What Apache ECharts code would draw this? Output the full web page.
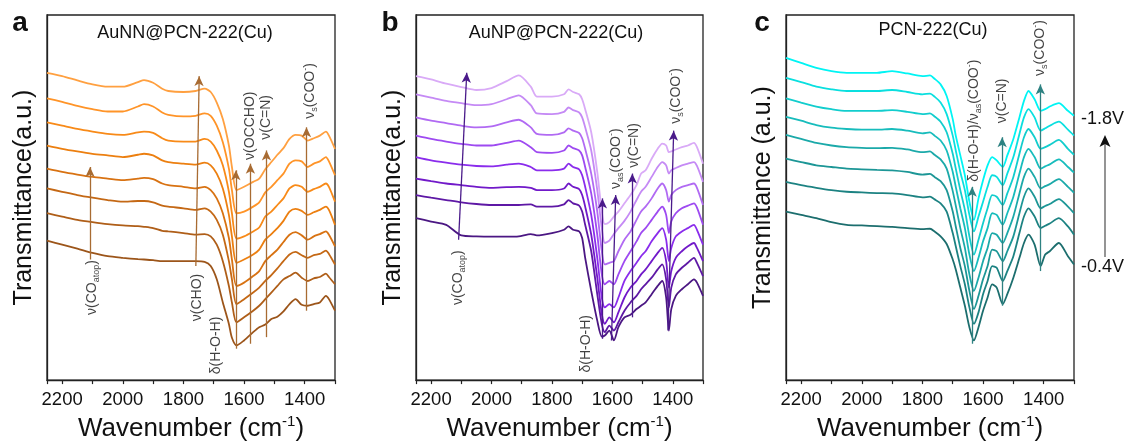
<!DOCTYPE html>
<html><head><meta charset="utf-8">
<script src="https://cdn.jsdelivr.net/npm/echarts/dist/echarts.min.js"></script>
<style>html,body{margin:0;padding:0;background:#fff}#c{width:1129px;height:447px}</style>
</head><body><div id="c"></div>
<script>
// ---------- DATA (transmittance in arbitrary units, curves offset as in the figure) ----------
const POTENTIALS = ['-1.8V','-1.6V','-1.4V','-1.2V','-1.0V','-0.8V','-0.6V','-0.4V'];
const X_TICKS = [2200, 2000, 1800, 1600, 1400];

// Panel a: AuNN@PCN-222(Cu)
const WN_A = [2250,2200,2150,2100,2050,2000,1950,1930,1900,1870,1850,1800,1760,1730,1710,1690,1670,1650,1640,1625,1600,1570,1550,1530,1510,1490,1470,1450,1430,1410,1390,1370,1350,1330,1320,1300];
const AuNN_18 = [930,920,907,895,888,888,902,908,900,882,875,872,875,882,872,840,790,710,645,575,585,600,610,638,660,682,702,730,742,740,725,732,740,752,740,700];
const AuNN_16 = [853,842,830,820,813,813,828,835,828,810,803,798,800,807,800,770,720,640,575,505,510,525,538,568,585,605,625,655,665,662,645,655,662,675,662,620];
const AuNN_14 = [780,770,760,752,745,742,750,752,748,732,725,722,722,730,722,695,650,570,505,428,435,450,462,495,510,530,550,580,590,585,570,578,585,595,585,540];
const AuNN_12 = [710,700,692,685,680,675,682,685,680,665,660,655,652,658,650,625,580,500,435,355,365,380,395,425,442,460,482,510,518,512,500,508,515,525,515,470];
const AuNN_10 = [640,630,622,615,610,605,610,612,608,595,590,585,580,585,575,550,505,430,365,285,295,315,330,360,378,395,418,440,448,438,425,435,442,450,440,405];
const AuNN_08 = [580,570,560,552,545,540,542,542,538,528,525,520,515,520,510,485,440,360,305,230,245,265,280,300,318,338,360,380,388,378,370,378,382,392,382,350];
const AuNN_06 = [505,495,485,478,472,468,466,464,460,452,450,445,440,442,435,410,360,285,235,175,190,210,225,245,265,285,305,315,325,310,300,308,312,322,312,290];
const AuNN_04 = [422,410,398,385,375,370,366,365,363,360,360,360,360,358,345,305,235,170,128,105,120,145,160,168,185,192,208,230,245,228,225,230,235,255,245,210];

// Panel b: AuNP@PCN-222(Cu)
const WN_B = [2250,2200,2150,2100,2050,2000,1950,1910,1870,1850,1800,1760,1745,1730,1710,1700,1690,1670,1650,1635,1625,1610,1595,1580,1560,1540,1520,1505,1490,1470,1450,1435,1422,1413,1405,1390,1370,1350,1330,1320,1300];
const AuNP_18 = [920,910,897,887,878,884,905,922,888,858,858,865,880,872,865,850,820,750,630,510,472,478,495,510,535,560,590,625,635,670,700,716,710,690,692,698,705,710,718,705,655];
const AuNP_16 = [865,855,845,838,832,835,850,862,832,807,805,812,825,817,810,795,765,695,575,460,415,422,442,460,482,510,545,570,585,615,645,660,650,625,635,642,650,655,660,648,600];
const AuNP_14 = [795,785,778,770,765,768,780,788,765,745,742,750,762,755,748,732,700,625,510,390,350,355,360,390,425,450,485,510,525,550,580,595,575,540,560,575,585,590,595,582,530];
const AuNP_12 = [740,730,722,715,710,710,718,725,705,690,688,695,710,702,695,680,645,565,440,320,290,300,290,320,360,390,420,445,460,485,510,525,500,445,480,505,520,528,535,522,470];
const AuNP_10 = [675,665,658,652,648,647,652,655,645,635,635,640,655,645,638,620,585,500,370,250,220,230,220,250,300,330,355,375,390,420,445,460,425,360,400,435,450,460,470,455,410];
const AuNP_08 = [610,602,595,590,585,582,584,585,582,575,575,580,595,585,578,560,525,440,310,200,170,190,175,205,250,280,300,320,335,360,385,400,360,280,330,370,390,405,415,400,360];
const AuNP_06 = [560,552,545,538,533,530,530,530,532,525,525,532,545,535,528,510,470,390,260,170,145,165,150,175,210,235,255,275,290,310,335,350,305,220,280,320,340,355,370,355,315];
const AuNP_04 = [490,480,470,438,435,434,434,435,442,438,445,455,465,455,450,430,370,270,180,132,135,150,120,160,190,198,215,225,235,260,285,300,250,150,215,255,275,290,305,295,255];

// Panel c: PCN-222(Cu)
const WN_C = [2250,2200,2150,2100,2050,2000,1950,1900,1850,1800,1775,1760,1740,1720,1700,1690,1675,1660,1645,1630,1615,1600,1585,1570,1555,1535,1520,1500,1480,1465,1450,1430,1410,1395,1380,1350,1320,1300];
const PCN_18 = [975,960,945,935,930,930,930,935,928,920,922,912,895,860,790,740,680,620,540,485,550,605,650,675,665,645,680,730,795,845,875,850,815,820,828,838,815,800];
const PCN_16 = [915,902,888,880,875,875,875,878,872,865,867,858,840,805,740,695,630,575,500,450,495,540,585,620,615,590,625,675,745,795,820,795,755,762,770,782,758,740];
const PCN_14 = [853,840,828,820,815,815,815,817,812,805,807,798,782,750,685,640,575,515,435,380,425,475,520,560,555,530,565,615,685,735,760,735,700,705,712,727,700,682];
const PCN_12 = [797,785,772,764,760,758,758,760,755,747,750,740,725,695,630,585,520,460,380,330,370,420,460,505,500,470,505,555,625,675,700,675,640,647,653,668,645,628];
const PCN_10 = [742,730,718,710,705,703,702,703,698,690,692,682,668,640,572,528,460,400,320,270,310,360,400,445,440,415,445,495,565,615,640,615,580,587,593,608,585,567];
const PCN_08 = [670,660,650,645,640,638,636,635,630,622,624,615,602,575,510,465,400,345,270,215,255,305,345,395,390,360,390,435,505,555,580,555,520,527,533,548,525,505];
const PCN_06 = [600,590,582,575,570,568,566,565,560,553,555,547,535,510,445,405,345,290,220,170,205,260,300,345,340,300,330,375,445,495,520,495,460,467,474,490,465,440];
const PCN_04 = [510,500,490,478,470,468,466,464,460,457,458,450,435,412,365,335,280,225,160,120,160,210,250,290,280,230,260,310,370,415,440,410,345,380,390,415,375,350];

// Band annotations: arrows [wnStart, yStart, wnEnd, yEnd] and labels [wn, y, text]
const ARROWS_A = [[2108,365,2108,645],[1759,345,1748,920],[1627,95,1627,635],[1579,110,1579,655],[1526,130,1526,695],[1394,210,1394,765]];
const LABELS_A = [[2100,280,'ν(CO{sub|atop})'],[1754,250,'ν(CHO)'],[1691,105,'δ(H-O-H)'],[1579,770,'ν(OCCHO)'],[1526,795,'ν(C=N)'],[1383,875,'ν{sub|s}(COO{sup|-})']];
const ARROWS_B = [[2109,425,2082,930],[1633,125,1633,550],[1603,120,1589,560],[1534,190,1534,625],[1416,150,1397,755]];
const LABELS_B = [[2112,310,'ν(CO{sub|atop})'],[1688,110,'δ(H-O-H)'],[1589,670,'ν{sub|as}(COO{sup|-})'],[1529,710,'ν(C=N)'],[1389,860,'ν{sub|s}(COO{sup|-})']];
const ARROWS_C = [[1636,110,1636,585],[1537,225,1537,735],[1411,330,1411,895]];
const LABELS_C = [[1630,785,'δ(H-O-H)/ν{sub|as}(COO{sup|-})'],[1537,845,'ν(C=N)'],[1411,1005,'ν{sub|s}(COO{sup|-})']];

// ---------- CHART ----------
const FONT = '"Liberation Sans", Arial, Helvetica, sans-serif';
const panels = [
  {wn: WN_A, curves: [AuNN_18,AuNN_16,AuNN_14,AuNN_12,AuNN_10,AuNN_08,AuNN_06,AuNN_04],
   colors: ['#FFA040','#FF9428','#F88A18','#EC7F10','#D87212','#C46815','#AF5E18','#9C551A'],
   arrows: ARROWS_A, labels: LABELS_A, arrowColor: '#A86B32', yName: 'Transmittance(a.u.)',
   grid: {left: 47, right: 794}},
  {wn: WN_B, curves: [AuNP_18,AuNP_16,AuNP_14,AuNP_12,AuNP_10,AuNP_08,AuNP_06,AuNP_04],
   colors: ['#D9AAF7','#C58AF5','#B16AF3','#9E4AF1','#8A2CEC','#7119C9','#5E18A5','#4B1783'],
   arrows: ARROWS_B, labels: LABELS_B, arrowColor: '#4A1A8A', yName: 'Transmittance(a.u.)',
   grid: {left: 416, right: 426}},
  {wn: WN_C, curves: [PCN_18,PCN_16,PCN_14,PCN_12,PCN_10,PCN_08,PCN_06,PCN_04],
   colors: ['#00F4F4','#0ADFDF','#12CDCD','#17BCBC','#1BA9A9','#1C9696','#1C8282','#1C6E6E'],
   arrows: ARROWS_C, labels: LABELS_C, arrowColor: '#2E8282', yName: 'Transmittance (a.u.)',
   grid: {left: 786, right: 55}}
];

const grids = [], xAxes = [], yAxes = [], series = [];
const axisColor = '#222';
panels.forEach((p, i) => {
  grids.push({left: p.grid.left, right: p.grid.right, top: 15, bottom: 63.7, show: true,
    borderColor: axisColor, borderWidth: 1.3, backgroundColor: 'transparent', containLabel: false});
  xAxes.push({gridIndex: i, type: 'value', inverse: true, min: 1300, max: 2250, interval: 100,
    axisLine: {show: true, onZero: false, lineStyle: {color: axisColor, width: 1.3}},
    axisTick: {show: true, inside: false, length: 4, lineStyle: {color: axisColor, width: 1.2}},
    axisLabel: {show: true, margin: 10, color: '#111', fontSize: 18.5, fontFamily: FONT,
      formatter: v => X_TICKS.indexOf(v) >= 0 ? String(v) : ''},
    splitLine: {show: false},
    name: '{t|Wavenumber (cm}{s|-1}{t|)}', nameLocation: 'middle', nameGap: 32,
    nameTextStyle: {rich: {
      t: {fontSize: 26, fontFamily: FONT, color: '#111', lineHeight: 30},
      s: {fontSize: 15, fontFamily: FONT, color: '#111', lineHeight: 17, verticalAlign: 'top'}}}
  });
  yAxes.push({gridIndex: i, type: 'value', min: 0, max: 1105,
    axisLine: {show: true, lineStyle: {color: axisColor, width: 1.3}},
    axisTick: {show: false}, axisLabel: {show: false}, splitLine: {show: false},
    name: p.yName, nameLocation: 'middle', nameGap: 10,
    nameTextStyle: {fontSize: 25, fontFamily: FONT, color: '#111'}
  });
  p.curves.forEach((vals, k) => {
    series.push({type: 'line', name: POTENTIALS[k], xAxisIndex: i, yAxisIndex: i,
      data: p.wn.map((w, j) => [w, vals[j]]), showSymbol: false, symbol: 'none', smooth: 0.25,
      lineStyle: {width: 1.8, color: p.colors[k]}, itemStyle: {color: p.colors[k]}, z: 2, silent: true});
  });
  series.push({type: 'scatter', xAxisIndex: i, yAxisIndex: i, z: 5, silent: true,
    symbol: 'circle', symbolSize: 1, itemStyle: {color: 'rgba(0,0,0,0)'},
    data: p.labels.map(l => ({value: [l[0], l[1]], name: l[2]})),
    label: {show: true, position: 'inside', rotate: 90, formatter: q => q.name,
      fontSize: 14, fontFamily: FONT, color: '#111', lineHeight: 18, align: 'center', verticalAlign: 'middle',
      rich: {
        sub: {fontSize: 9, fontFamily: FONT, color: '#111', lineHeight: 10, verticalAlign: 'bottom'},
        sup: {fontSize: 9, fontFamily: FONT, color: '#111', lineHeight: 10, verticalAlign: 'top'}
      }},
    markLine: {silent: true, symbol: ['none', 'arrow'], symbolSize: [7, 10], precision: 3,
      label: {show: false}, emphasis: {disabled: true},
      lineStyle: {color: p.arrowColor, width: 1.3, type: 'solid'},
      data: p.arrows.map(a => [{coord: [a[0], a[1]]}, {coord: [a[2], a[3]]}])}
  });
});

const txt = (text, x, y, size, opts) => Object.assign({type: 'text', x: x, y: y, silent: true,
  style: Object.assign({text: text, fontSize: size, fontFamily: FONT, fill: '#111', align: 'center', verticalAlign: 'middle'}, opts || {})});

const graphic = [
  txt('a', 20, 23, 28, {fontWeight: 'bold'}),
  txt('b', 390, 23, 28, {fontWeight: 'bold'}),
  txt('c', 762, 23, 28, {fontWeight: 'bold'}),
  txt('AuNN@PCN-222(Cu)', 185, 33, 18),
  txt('AuNP@PCN-222(Cu)', 556, 33, 18),
  txt('PCN-222(Cu)', 933, 30, 18),
  txt('-1.8V', 1081, 119, 18, {align: 'left'}),
  txt('-0.4V', 1081, 267, 18, {align: 'left'}),
  {type: 'line', silent: true, shape: {x1: 1105, y1: 257, x2: 1105, y2: 143}, style: {stroke: '#7a7a7a', lineWidth: 1.6}},
  {type: 'polygon', silent: true, shape: {points: [[1105, 135], [1099.5, 147], [1105, 144], [1110.5, 147]]}, style: {fill: '#111'}}
];

const chart = echarts.init(document.getElementById('c'), null, {renderer: 'canvas'});
chart.setOption({
  animation: false, backgroundColor: '#fff',
  grid: grids, xAxis: xAxes, yAxis: yAxes, series: series, graphic: graphic,
  tooltip: {show: false}, legend: {show: false}
});
</script></body></html>
